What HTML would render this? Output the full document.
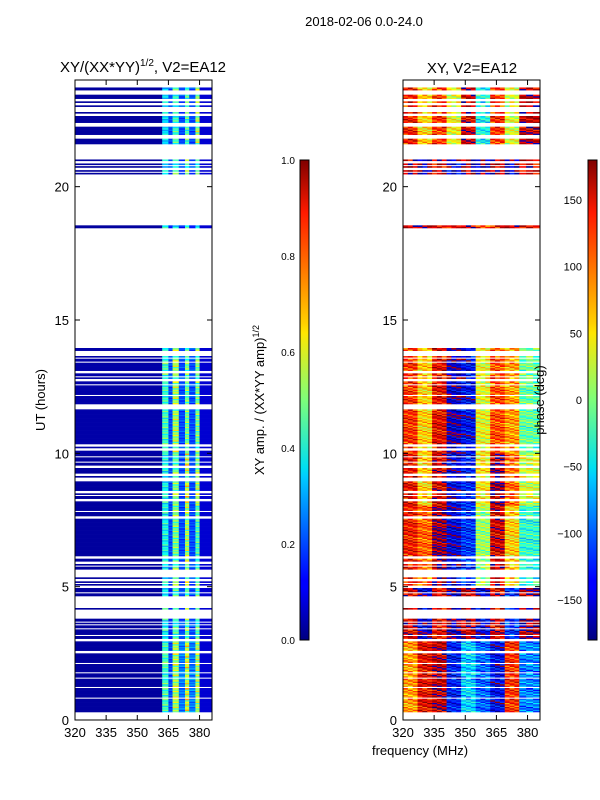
<!DOCTYPE html>
<html><head><meta charset="utf-8"><style>
body{margin:0;background:#fff;}
svg{display:block;font-family:"Liberation Sans",sans-serif;}
</style></head><body>
<svg id="fig" width="600" height="800" viewBox="0 0 600 800" xmlns="http://www.w3.org/2000/svg">
<defs>
<linearGradient id="jet" x1="0" y1="1" x2="0" y2="0">
<stop offset="0" stop-color="#000080"/><stop offset="0.11" stop-color="#0000ff"/><stop offset="0.125" stop-color="#0000ff"/>
<stop offset="0.34" stop-color="#00ccff"/><stop offset="0.36" stop-color="#00e0f0"/><stop offset="0.5" stop-color="#7dff7a"/>
<stop offset="0.64" stop-color="#ffe600"/><stop offset="0.66" stop-color="#ffd000"/><stop offset="0.89" stop-color="#ff1a00"/><stop offset="1" stop-color="#800000"/>
</linearGradient>
</defs>
<text x="364" y="26" font-size="13" text-anchor="middle">2018-02-06 0.0-24.0</text>
<text x="143" y="72" font-size="15" text-anchor="middle">XY/(XX*YY)<tspan font-size="10" dy="-6">1/2</tspan><tspan dy="6">, V2=EA12</tspan></text>
<text x="472" y="73" font-size="15" text-anchor="middle">XY, V2=EA12</text>
<g id="ampHeat"></g>
<g id="phHeat"></g>
<g id="axes"></g>
<rect x="300" y="160" width="9" height="480" fill="url(#jet)" stroke="#000" stroke-width="1"/>
<rect x="588" y="160" width="9" height="480" fill="url(#jet)" stroke="#000" stroke-width="1"/>
<text transform="translate(45,400) rotate(-90)" font-size="13" text-anchor="middle">UT (hours)</text>
<text transform="translate(264,400) rotate(-90)" font-size="13" text-anchor="middle">XY amp. / (XX*YY amp)<tspan font-size="9" dy="-5">1/2</tspan></text>
<text transform="translate(544,400) rotate(-90)" font-size="13" text-anchor="middle">phase (deg)</text>
<text x="420" y="755" font-size="13" text-anchor="middle">frequency (MHz)</text>
</svg>
<script>
const segments=[[0.3,13.95],[18.45,18.55],[20.47,21.0],[21.6,23.45],[23.62,23.72]];
const gapLines=[0.83,1.24,1.58,1.76,2.14,2.55,3.0,3.19,3.41,3.56,3.67,3.83,3.9,4.0,4.1,4.24,4.3,4.4,4.5,4.6,4.76,5.0,5.14,5.25,5.4,5.5,5.6,5.77,5.9,6.1,7.6,7.84,8.25,8.44,8.55,9.0,9.07,9.2,9.5,9.68,9.86,10.15,10.3,11.7,11.8,12.19,12.56,12.75,12.86,13.05,13.42,13.57,13.7,13.8,20.55,20.67,20.8,20.92,21.85,21.92,22.3,22.35,22.7,22.85,22.95,23.1,23.25];
const groupEdges=[0,3,5,8,10,14,19.5,21.3,24];
const ampBands=[320,362,365,367,370,373,375,378,380,386];
const ampVals=[
[0.03,0.45,0.2,0.55,0.25,0.6,0.25,0.55,0.08],
[0.03,0.4,0.15,0.45,0.2,0.5,0.2,0.45,0.08],
[0.03,0.4,0.2,0.5,0.2,0.55,0.2,0.45,0.08],
[0.03,0.4,0.2,0.5,0.2,0.6,0.2,0.55,0.08],
[0.04,0.45,0.2,0.55,0.2,0.5,0.2,0.5,0.08],
[0.03,0.4,0.15,0.4,0.15,0.4,0.15,0.4,0.08],
[0.03,0.35,0.2,0.45,0.2,0.5,0.2,0.45,0.08],
[0.03,0.35,0.2,0.45,0.2,0.45,0.2,0.55,0.08]];
const ampRowFactor=[1,0.8,1.15,0.9,1.05,0.75,1.2,0.95];
const phBands=[320,327,334,341,348,355,362,369,376,386];
const phVals=[
[80,140,160,-130,-60,-100,-140,120,-90],
[150,-160,140,-170,160,-150,150,-120,170],
[130,100,170,-150,-120,10,150,60,-30],
[140,60,150,-150,-130,50,170,100,30],
[120,60,140,-160,-140,40,110,80,-10],
[150,160,150,140,150,120,140,150,130],
[160,-160,150,-150,170,-170,160,-160,150],
[130,60,120,40,150,-40,120,30,160]];
const phJitter=[0,20,-15,35,-30,10,-45,25,5,-20,40,-10,15,-35];
const yTicks=[0,5,10,15,20];
const xTicks=[320,335,350,365,380];
const ampCbTicks=[0,0.2,0.4,0.6,0.8,1.0];
const phCbTicks=[-150,-100,-50,0,50,100,150];

const NS='http://www.w3.org/2000/svg';
const yS=h=>720-h*640/24;
const xS=(x0,f)=>x0+(f-320)*137/66;
function jet(v){v=Math.max(0,Math.min(1,v));
 const r=Math.max(0,Math.min(1,1.5-Math.abs(4*v-3))),g=Math.max(0,Math.min(1,1.5-Math.abs(4*v-2))),b=Math.max(0,Math.min(1,1.5-Math.abs(4*v-1)));
 return `rgb(${Math.round(r*255)},${Math.round(g*255)},${Math.round(b*255)})`;}
function el(t,a,p){const e=document.createElementNS(NS,t);for(const k in a)e.setAttribute(k,a[k]);p.appendChild(e);return e;}
function grp(h){for(let i=0;i<groupEdges.length-1;i++)if(h<groupEdges[i+1])return i;return groupEdges.length-2;}
function isGap(h){return gapLines.some(g=>Math.abs(h-g)<0.026);}
const amp=document.getElementById('ampHeat'),ph=document.getElementById('phHeat');
const step=0.05;let ri=0;
segments.forEach(s=>{for(let h=s[0];h<s[1]-1e-6;h+=step,ri++){
 if(isGap(h+step/2))continue;
 const gi=grp(h),y=yS(h+step),hh=640/24*step+0.3;
 for(let j=0;j<ampBands.length-1;j++){
  let v=ampVals[gi][j];if(j>0&&j<ampBands.length-2)v*=ampRowFactor[(ri+j)%ampRowFactor.length];
  const x1=xS(75,ampBands[j]),x2=xS(75,ampBands[j+1]);
  const r=el('rect',{x:x1,y:y,width:x2-x1+0.3,height:hh,fill:jet(v)},amp);
  
  
 }
 for(let j=0;j<phBands.length-1;j++){
  for(let k=0;k<3;k++){
   let v=phVals[gi][j]+phJitter[(ri+j*2+k)%phJitter.length];
   if(v>180)v-=360;if(v<-180)v+=360;
   const w=(phBands[j+1]-phBands[j])/3,f1=phBands[j]+k*w;
   const x1=xS(403,f1),x2=xS(403,f1+w);
   const r=el('rect',{x:x1,y:y,width:x2-x1+0.3,height:hh,fill:jet((v+180)/360)},ph);
   
   
  }
 }
}});
const ax=document.getElementById('axes');
[75,403].forEach((x0,pi)=>{
 const f=el('rect',{x:x0,y:80,width:137,height:640,fill:'none',stroke:'#000','stroke-width':1},ax);
 
 
 yTicks.forEach(t=>{const y=yS(t);
  el('line',{x1:x0,x2:x0+5,y1:y,y2:y,stroke:'#000'},ax);el('line',{x1:x0+137,x2:x0+132,y1:y,y2:y,stroke:'#000'},ax);
  const tx=el('text',{x:x0-6,y:y+5,'font-size':13,'text-anchor':'end'},ax);tx.textContent=t;
  
  });
 xTicks.forEach(t=>{const x=xS(x0,t);
  el('line',{x1:x,x2:x,y1:720,y2:715,stroke:'#000'},ax);el('line',{x1:x,x2:x,y1:80,y2:85,stroke:'#000'},ax);
  const tx=el('text',{x:x,y:737,'font-size':13,'text-anchor':'middle'},ax);tx.textContent=t;
  
  });
});
ampCbTicks.forEach(t=>{const y=640-t*480;
 el('line',{x1:300,x2:303,y1:y,y2:y,stroke:'#000'},ax);el('line',{x1:309,x2:306,y1:y,y2:y,stroke:'#000'},ax);
 const tx=el('text',{x:295,y:y+4,'font-size':10,'text-anchor':'end'},ax);tx.textContent=t.toFixed(1);
 
 });
phCbTicks.forEach(t=>{const y=400-t*480/360;
 el('line',{x1:588,x2:591,y1:y,y2:y,stroke:'#000'},ax);el('line',{x1:597,x2:594,y1:y,y2:y,stroke:'#000'},ax);
 const tx=el('text',{x:582,y:y+4,'font-size':11,'text-anchor':'end'},ax);tx.textContent=t<0?'\u2212'+(-t):t;
 
 });
</script>
</body></html>
